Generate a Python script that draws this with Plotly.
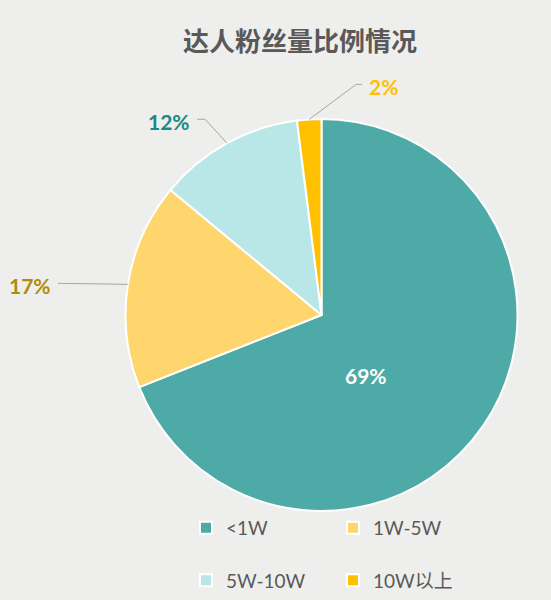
import math
import plotly.graph_objects as go

# data
categories = ["<1W", "1W-5W", "5W-10W", "10W以上"]
shares = [69, 17, 12, 2]
slice_colors = ["#4eaaa6", "#ffd56e", "#b9e6e6", "#ffc000"]
label_colors = ["#ffffff", "#b38b0c", "#1a8a82", "#ffc000"]
title_text = "达人粉丝量比例情况"

# layout constants (pixels)
W, H = 551, 600
ML, MR = 120, 31            # narrow plot area so the legend wraps after two items
GW = W - ML - MR
CX, CY, R = 321.5, 315, 196
TEXT = "#595959"
LINE = "#a6a6a6"

# label placement: inside offset for the big slice, leader lines for the rest
INSIDE_OFFSET = {0: (44, 60)}
LEADERS = {1: (-70, -1, 0), 2: (-22, -24, -8), 3: (47, -35, 6)}


def px(x):
    """pixel x -> plot-area paper fraction"""
    return (x - ML) / GW


def py(y):
    return 1 - y / H


fig = go.Figure(go.Pie(
    labels=[c + "<br>&nbsp;" for c in categories],
    values=shares,
    sort=False,
    direction="clockwise",
    rotation=0,
    marker=dict(colors=slice_colors, line=dict(color="white", width=2)),
    textinfo="none",
    hoverinfo="percent",
    domain=dict(x=[px(CX - R), px(CX + R)], y=[py(CY + R), py(CY - R)]),
))

# mid angle of every slice, measured clockwise from 12 o'clock
total = sum(shares)
mids = []
acc = 0
for v in shares:
    mids.append((acc + v / 2) / total * 2 * math.pi)
    acc += v

shapes = []
annotations = []
for i, v in enumerate(shares):
    font = dict(family="Lato, Noto Sans CJK SC", size=21, color=label_colors[i], weight="bold")
    if i in INSIDE_OFFSET:
        dx, dy = INSIDE_OFFSET[i]
        annotations.append(dict(x=px(CX + dx), y=py(CY + dy), xref="paper", yref="paper",
                                text=f"{v}%", showarrow=False, font=font))
        continue
    ex = CX + R * math.sin(mids[i])
    ey = CY - R * math.cos(mids[i])
    edx, edy, stub = LEADERS[i]
    bx, by = ex + edx, ey + edy
    sx = bx + stub
    shapes.append(dict(
        type="path", xref="paper", yref="paper",
        path=f"M {px(ex)} {py(ey)} L {px(bx)} {py(by)} L {px(sx)} {py(by)}",
        line=dict(color=LINE, width=1),
    ))
    left = (stub if stub else edx) < 0
    annotations.append(dict(
        x=px(sx + (-5 if left else 5)), y=py(by + 2), xref="paper", yref="paper",
        xanchor="right" if left else "left", yanchor="middle",
        text=f"{v}%", showarrow=False, font=font,
    ))

fig.update_layout(
    width=W, height=H,
    margin=dict(l=ML, r=MR, t=0, b=0, autoexpand=False),
    paper_bgcolor="#eeeeed",
    plot_bgcolor="#eeeeed",
    title=dict(text=title_text, x=300 / W, xanchor="center", y=py(42), yanchor="middle",
               font=dict(family="Noto Sans CJK SC", size=26, color=TEXT, weight="bold")),
    shapes=shapes,
    annotations=annotations,
    legend=dict(
        orientation="h", x=px(186), y=py(509), xanchor="left", yanchor="top",
        entrywidth=102, entrywidthmode="pixels", valign="top", traceorder="normal",
        font=dict(family="Lato, Noto Sans CJK SC", size=19, color=TEXT),
        bgcolor="rgba(0,0,0,0)",
    ),
)

# drop the default body margin so the 551x600 figure fills the window exactly
fig.write_html("out.html", config={"displayModeBar": False},
               post_script="document.body.style.margin='0';")
